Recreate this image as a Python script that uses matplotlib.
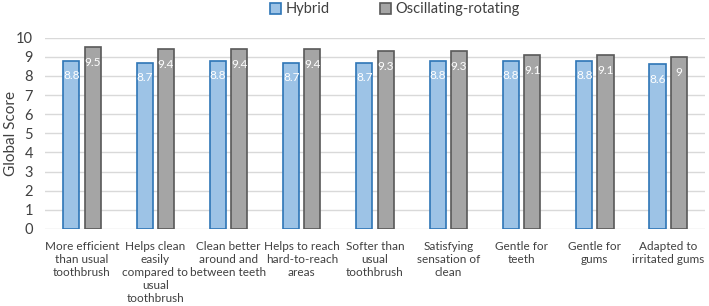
import matplotlib
matplotlib.use("Agg")
import matplotlib.pyplot as plt
import numpy as np

categories = ["More efficient\nthan usual\ntoothbrush",
              "Helps clean\neasily\ncompared to\nusual\ntoothbrush",
              "Clean better\naround and\nbetween teeth",
              "Helps to reach\nhard-to-reach\nareas",
              "Softer than\nusual\ntoothbrush",
              "Satisfying\nsensation of\nclean",
              "Gentle for\nteeth",
              "Gentle for\ngums",
              "Adapted to\nirritated gums"]
hybrid = [8.8, 8.7, 8.8, 8.7, 8.7, 8.8, 8.8, 8.8, 8.6]
oscillating = [9.5, 9.4, 9.4, 9.4, 9.3, 9.3, 9.1, 9.1, 9.0]
series_names = ["Hybrid", "Oscillating-rotating"]
yticks = list(range(0, 11))

plt.rcParams['font.family'] = ['Lato', 'DejaVu Sans']

fig = plt.figure(figsize=(7.09, 3.06), dpi=100)
ax = fig.add_axes([0.064, 0.252, 0.93, 0.625])

x = np.arange(len(categories))
w = 0.22
off = 0.145
b1 = ax.bar(x - off, hybrid, w, color="#9DC3E6", edgecolor="#2E75B6", linewidth=1.2,
            label=series_names[0], zorder=3)
b2 = ax.bar(x + off, oscillating, w, color="#A5A5A5", edgecolor="#595959", linewidth=1.2,
            label=series_names[1], zorder=3)

for bars, vals in ((b1, hybrid), (b2, oscillating)):
    for r, v in zip(bars, vals):
        lab = f"{v:g}"
        ax.annotate(lab, (r.get_x() + r.get_width() / 2, v), xytext=(0, -11),
                    textcoords="offset points", ha="center", va="center",
                    color="white", fontsize=8.5, zorder=4)

ax.set_ylim(0, 10)
ax.set_xlim(-0.5, len(categories) - 0.5)
ax.set_yticks(yticks)
ax.yaxis.grid(True, color="#D9D9D9", linewidth=1, zorder=0)
ax.set_axisbelow(True)
for s in ax.spines.values():
    s.set_visible(False)
ax.tick_params(axis="both", length=0, labelsize=10.5, colors="#404040")
ax.tick_params(axis="y", pad=9)
ax.tick_params(axis="x", pad=9)
ax.set_xticks(x)
ax.set_xticklabels(categories, fontsize=8.5, color="#404040", linespacing=1.2)
fig.text(0.016, 0.565, "Global Score", rotation=90, ha="center", va="center",
         fontsize=11, color="#404040")

fig.legend(handles=[b1, b2], loc="upper center", bbox_to_anchor=(0.557, 1.035), ncol=2,
           frameon=False, fontsize=10.5, handlelength=0.75, handleheight=0.75,
           handletextpad=0.35, columnspacing=3.4, labelcolor="#404040")

fig.savefig("out.png", dpi=100)
